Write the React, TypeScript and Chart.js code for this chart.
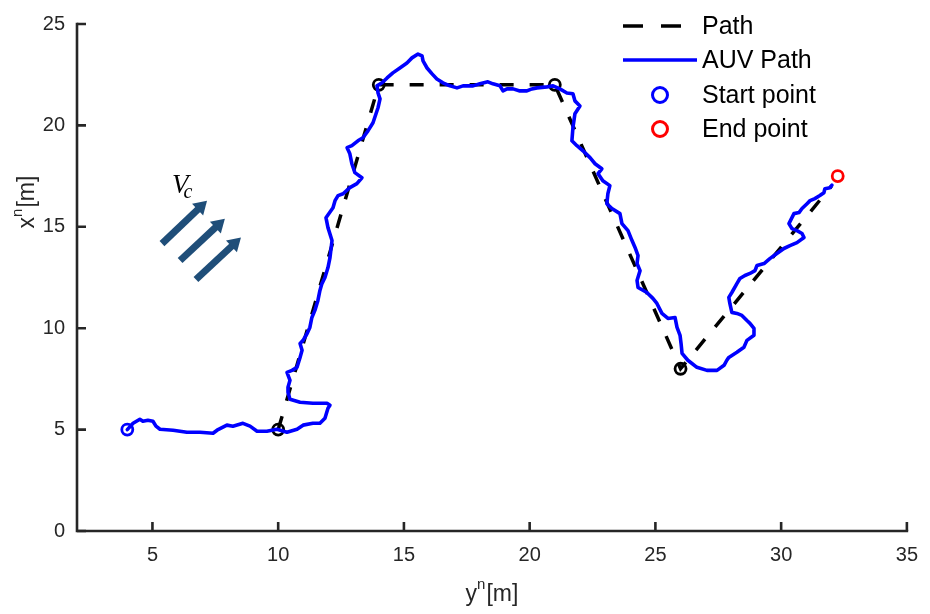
import React, { useEffect, useRef } from "react";
import { Chart, registerables } from "chart.js";

Chart.register(...registerables);

// Reference path waypoints (horizontal: y^n, vertical: x^n), in metres
const waypointYn = [10, 14, 21, 26, 32];
const waypointXn = [5, 22, 22, 8, 17];

// Recorded AUV trajectory
const auvYn = [
  4.0, 4.23, 4.5, 4.62, 4.82, 5.02, 5.14, 5.3, 5.82, 6.37, 6.89, 7.41, 7.57, 7.96, 8.2, 8.6,
  8.88, 9.16, 9.55, 9.95, 10.35, 10.75, 10.99, 11.38, 11.66, 11.86, 11.98, 12.06, 11.94, 11.38,
  10.87, 10.47, 10.39, 10.39, 10.47, 10.35, 10.55, 10.75, 10.87, 10.95, 10.87, 10.99, 11.15,
  11.26, 11.34, 11.46, 11.58, 11.66, 11.74, 11.86, 11.98, 12.06, 12.14, 11.98, 11.9, 12.18,
  12.26, 12.38, 12.58, 12.85, 13.13, 13.33, 13.05, 12.93, 12.85, 12.74, 12.93, 13.17, 13.37,
  13.57, 13.77, 13.97, 14.05, 13.97, 13.93, 14.13, 14.33, 14.56, 14.84, 15.12, 15.32, 15.56,
  15.72, 15.76, 15.92, 16.12, 16.31, 16.55, 16.83, 17.11, 17.35, 17.75, 18.02, 18.34, 18.54,
  18.82, 18.94, 19.1, 19.34, 19.61, 19.89, 20.09, 20.29, 20.69, 20.93, 21.2, 21.48, 21.72,
  21.8, 22.0, 21.8, 21.72, 21.68, 21.88, 22.12, 22.4, 22.6, 22.87, 22.72, 22.91, 23.19, 23.11,
  23.07, 23.27, 23.59, 23.67, 23.91, 24.07, 24.19, 24.31, 24.27, 24.39, 24.27, 24.31, 24.66,
  24.9, 25.06, 25.26, 25.5, 25.78, 25.86, 25.98, 26.02, 26.06, 26.29, 26.65, 27.05, 27.45,
  27.73, 27.84, 27.92, 28.24, 28.52, 28.64, 28.92, 28.92, 28.76, 28.64, 28.44, 28.24, 28.04,
  27.96, 27.92, 28.04, 28.24, 28.36, 28.56, 28.76, 28.96, 29.04, 29.32, 29.55, 29.83, 30.11,
  30.35, 30.63, 30.91, 30.83, 30.63, 30.43, 30.31, 30.43, 30.51, 30.71, 30.83, 31.03, 31.15,
  31.34, 31.54, 31.7, 31.74, 31.94, 32.02,
];
const auvXn = [
  5.0, 5.31, 5.51, 5.41, 5.46, 5.41, 5.17, 5.02, 4.97, 4.87, 4.87, 4.82, 4.97, 5.22, 5.17, 5.31,
  5.17, 4.92, 4.92, 5.02, 4.87, 5.02, 5.22, 5.31, 5.31, 5.56, 6.05, 6.2, 6.3, 6.3,
  6.35, 6.5, 6.84, 7.09, 7.43, 7.82, 7.92, 8.07, 8.56, 8.91, 9.25, 9.4, 9.74,
  10.04, 10.53, 10.88, 11.37, 11.86, 12.2, 12.5, 12.99, 13.48, 14.32, 14.96, 15.45, 15.94,
  16.29, 16.54, 16.63, 16.93, 17.13, 17.42, 17.67, 18.11, 18.6, 18.9, 19.0, 19.24, 19.39,
  19.73, 20.13, 20.87, 21.31, 21.6, 21.95, 22.1, 22.34, 22.59, 22.83, 23.08, 23.33, 23.52,
  23.43, 23.18, 22.83, 22.54, 22.29, 22.1, 21.95, 21.85, 21.95, 21.95, 22.05, 22.15, 22.05,
  21.95, 21.7, 21.8, 21.8, 21.7, 21.7, 21.8, 21.85, 21.9, 21.95, 21.8, 21.6, 21.56,
  21.21, 20.96, 20.57, 19.88, 19.24, 19.0, 18.75, 18.41, 18.11, 17.86, 17.62, 17.27, 17.03, 16.63,
  16.14, 15.9, 15.65, 15.16, 14.81, 14.32, 13.98, 13.58, 13.19, 12.84, 12.35, 12.01, 11.76,
  11.47, 11.22, 10.73, 10.48, 10.53, 10.04, 9.65, 9.25, 8.76, 8.42, 8.07, 7.92, 7.92,
  8.17, 8.42, 8.56, 8.81, 9.06, 9.4, 9.65, 9.99, 10.24, 10.38, 10.63, 10.73, 10.78,
  11.22, 11.52, 11.76, 12.2, 12.45, 12.6, 12.7, 12.84, 13.09, 13.19, 13.43, 13.68, 13.93,
  14.07, 14.22, 14.47, 14.67, 14.81, 14.91, 15.16, 15.45, 15.65, 15.7, 15.9, 16.14, 16.29,
  16.39, 16.54, 16.68, 16.88, 16.93, 17.05,
];

const startYn = [4];
const startXn = [5];
const endYn = [32.25];
const endXn = [17.5];

const xTickValues = [5, 10, 15, 20, 25, 30, 35];
const yTickValues = [0, 5, 10, 15, 20, 25];

const legendLabels = ["Path", "AUV Path", "Start point", "End point"];

// Sea-current indicator: three arrows (tail -> tip) in data units
const currentTailYn = [5.38, 6.1, 6.73];
const currentTailXn = [14.17, 13.34, 12.4];
const currentTipYn = [7.17, 7.88, 8.52];
const currentTipXn = [16.29, 15.4, 14.47];
const currentLabelYn = 5.82;
const currentLabelXn = 16.68;

const AXIS_COLOR = "#262626";
const SANS = "'Liberation Sans', Arial, Helvetica, sans-serif";
const SERIF = "'Liberation Serif', 'Times New Roman', serif";

const zip = (a: number[], b: number[]) => a.map((v, i) => ({ x: v, y: b[i] }));

const decorPlugin = {
  id: "decor",
  afterDraw(chart: any) {
    const { ctx, chartArea, scales } = chart;
    const xs = scales.x;
    const ys = scales.y;
    const left = chartArea.left;
    const bottom = chartArea.bottom;

    ctx.save();
    // axis lines (box off: only left and bottom)
    ctx.strokeStyle = AXIS_COLOR;
    ctx.lineWidth = 2.6;
    ctx.lineCap = "square";
    ctx.beginPath();
    ctx.moveTo(left, ys.getPixelForValue(25));
    ctx.lineTo(left, bottom);
    ctx.lineTo(xs.getPixelForValue(35), bottom);
    ctx.stroke();

    // inward tick marks
    ctx.lineCap = "butt";
    ctx.beginPath();
    for (const v of yTickValues) {
      const p = ys.getPixelForValue(v);
      ctx.moveTo(left, p);
      ctx.lineTo(left + 9, p);
    }
    for (const v of xTickValues) {
      const p = xs.getPixelForValue(v);
      ctx.moveTo(p, bottom);
      ctx.lineTo(p, bottom - 9);
    }
    ctx.stroke();

    // axis titles with superscript n
    ctx.fillStyle = AXIS_COLOR;
    ctx.textBaseline = "alphabetic";
    const drawTitle = (base: string) => {
      ctx.font = `23px ${SANS}`;
      const w1 = ctx.measureText(base).width;
      const w3 = ctx.measureText("[m]").width;
      ctx.font = `15px ${SANS}`;
      const w2 = ctx.measureText("n").width;
      const total = w1 + w2 + w3 + 1;
      let x = -total / 2;
      ctx.font = `23px ${SANS}`;
      ctx.fillText(base, x, 0);
      x += w1;
      ctx.font = `15px ${SANS}`;
      ctx.fillText("n", x, -12);
      x += w2 + 1;
      ctx.font = `23px ${SANS}`;
      ctx.fillText("[m]", x, 0);
    };
    ctx.save();
    ctx.translate((chartArea.left + chartArea.right) / 2, 601);
    drawTitle("y");
    ctx.restore();
    ctx.save();
    ctx.translate(34, chartArea.top + 178);
    ctx.rotate(-Math.PI / 2);
    drawTitle("x");
    ctx.restore();

    // sea current arrows
    ctx.fillStyle = "#1f4e79";
    ctx.strokeStyle = "#1f4e79";
    for (let i = 0; i < currentTailYn.length; i++) {
      const x0 = xs.getPixelForValue(currentTailYn[i]);
      const y0 = ys.getPixelForValue(currentTailXn[i]);
      const x1 = xs.getPixelForValue(currentTipYn[i]);
      const y1 = ys.getPixelForValue(currentTipXn[i]);
      const ang = Math.atan2(y1 - y0, x1 - x0);
      const headLen = 13;
      const headHalf = 8;
      const bx = x1 - headLen * Math.cos(ang);
      const by = y1 - headLen * Math.sin(ang);
      ctx.lineWidth = 7;
      ctx.lineCap = "butt";
      ctx.beginPath();
      ctx.moveTo(x0, y0);
      ctx.lineTo(bx + Math.cos(ang), by + Math.sin(ang));
      ctx.stroke();
      ctx.beginPath();
      ctx.moveTo(x1, y1);
      ctx.lineTo(bx + headHalf * Math.sin(ang), by - headHalf * Math.cos(ang));
      ctx.lineTo(bx - headHalf * Math.sin(ang), by + headHalf * Math.cos(ang));
      ctx.closePath();
      ctx.fill();
    }
    const lx = xs.getPixelForValue(currentLabelYn);
    const ly = ys.getPixelForValue(currentLabelXn);
    ctx.fillStyle = "#000";
    ctx.font = `italic 27px ${SERIF}`;
    ctx.fillText("V", lx - 1, ly);
    const vw = ctx.measureText("V").width;
    ctx.font = `italic 20px ${SERIF}`;
    ctx.fillText("c", lx + vw - 6, ly + 5);

    // legend
    const lxLine0 = 623;
    const lxLine1 = 697;
    const lxText = 702;
    const rowY = [26, 60, 95, 129];
    ctx.font = `25px ${SANS}`;
    ctx.textBaseline = "middle";
    ctx.fillStyle = "#000";
    legendLabels.forEach((t, i) => ctx.fillText(t, lxText, rowY[i] + 1));
    ctx.lineWidth = 3.5;
    ctx.strokeStyle = "#000";
    ctx.setLineDash([20, 18]);
    ctx.beginPath();
    ctx.moveTo(lxLine0, rowY[0]);
    ctx.lineTo(lxLine1, rowY[0]);
    ctx.stroke();
    ctx.setLineDash([]);
    ctx.strokeStyle = "#0000ff";
    ctx.beginPath();
    ctx.moveTo(lxLine0, rowY[1]);
    ctx.lineTo(lxLine1, rowY[1]);
    ctx.stroke();
    const cx = (lxLine0 + lxLine1) / 2;
    ctx.lineWidth = 3;
    ctx.beginPath();
    ctx.arc(cx, rowY[2], 7.5, 0, Math.PI * 2);
    ctx.stroke();
    ctx.strokeStyle = "#ff0000";
    ctx.beginPath();
    ctx.arc(cx, rowY[3], 7.5, 0, Math.PI * 2);
    ctx.stroke();
    ctx.restore();
  },
};

export default function App() {
  const canvasRef = useRef<HTMLCanvasElement>(null);

  useEffect(() => {
    const canvas = canvasRef.current;
    if (!canvas) return;
    const chart = new Chart(canvas, {
      type: "scatter",
      data: {
        datasets: [
          {
            label: legendLabels[0],
            data: zip(waypointYn, waypointXn),
            showLine: true,
            borderColor: "#000000",
            borderWidth: 3.5,
            borderDash: [14, 16],
            pointRadius: waypointYn.map((_, i) => (i < waypointYn.length - 1 ? 5.5 : 0)),
            pointBorderWidth: 2.8,
            pointBorderColor: "#000000",
            pointBackgroundColor: "rgba(0,0,0,0)",
            order: 3,
          },
          {
            label: legendLabels[1],
            data: zip(auvYn, auvXn),
            showLine: true,
            borderColor: "#0000ff",
            borderWidth: 3.6,
            borderJoinStyle: "round",
            borderCapStyle: "round",
            pointRadius: 0,
            order: 2,
          },
          {
            label: legendLabels[2],
            data: zip(startYn, startXn),
            pointRadius: 5.5,
            pointBorderWidth: 2.8,
            pointBorderColor: "#0000ff",
            pointBackgroundColor: "rgba(0,0,0,0)",
            order: 1,
          },
          {
            label: legendLabels[3],
            data: zip(endYn, endXn),
            pointRadius: 5.5,
            pointBorderWidth: 2.8,
            pointBorderColor: "#ff0000",
            pointBackgroundColor: "rgba(0,0,0,0)",
            order: 0,
          },
        ],
      },
      options: {
        responsive: false,
        devicePixelRatio: 1,
        animation: false,
        events: [],
        layout: { padding: { left: 0, right: 23, top: 23, bottom: 0 } },
        plugins: { legend: { display: false }, tooltip: { enabled: false } },
        scales: {
          x: {
            type: "linear",
            min: 2,
            max: 35,
            grid: { display: false, drawTicks: false },
            border: { display: false },
            ticks: {
              stepSize: 5,
              padding: 12,
              color: AXIS_COLOR,
              font: { size: 20, family: SANS },
              maxRotation: 0,
            },
            afterBuildTicks: (scale: any) => {
              scale.ticks = xTickValues.map((v) => ({ value: v }));
            },
            afterFit: (scale: any) => {
              scale.height = 83;
            },
          },
          y: {
            type: "linear",
            min: 0,
            max: 25,
            grid: { display: false, drawTicks: false },
            border: { display: false },
            ticks: {
              stepSize: 5,
              padding: 12,
              color: AXIS_COLOR,
              font: { size: 20, family: SANS },
            },
            afterBuildTicks: (scale: any) => {
              scale.ticks = yTickValues.map((v) => ({ value: v }));
            },
            afterFit: (scale: any) => {
              scale.width = 77;
            },
          },
        },
      },
      plugins: [decorPlugin],
    } as any);
    return () => chart.destroy();
  }, []);

  return (
    <div style={{ position: "absolute", left: 0, top: 0, width: 930, height: 614, background: "#ffffff" }}>
      <canvas ref={canvasRef} width={930} height={614} style={{ display: "block", width: 930, height: 614 }} />
    </div>
  );
}
